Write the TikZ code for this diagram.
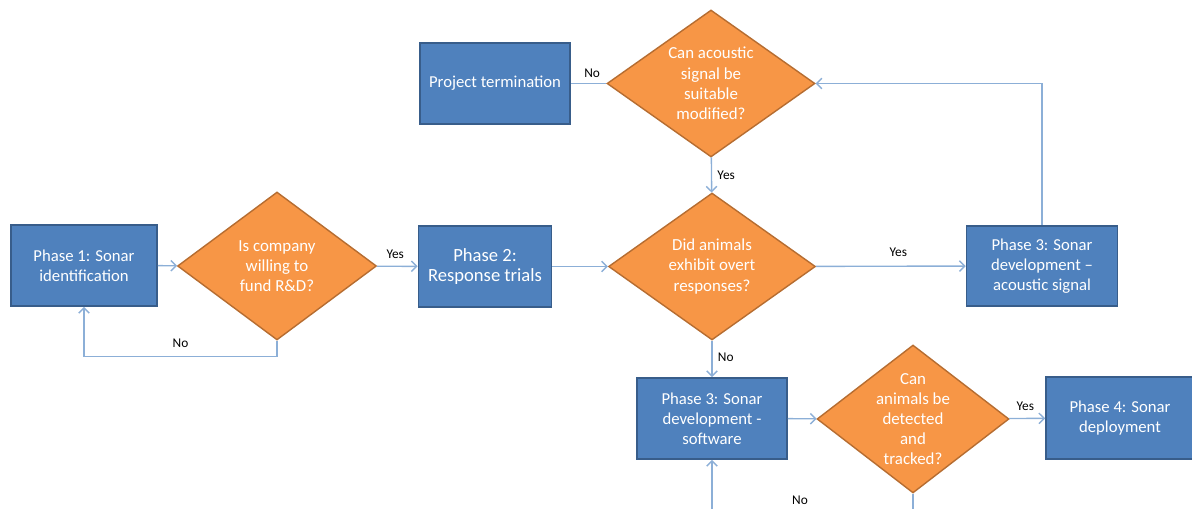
\documentclass[tikz,border=0pt]{standalone}
\usepackage{fontspec}
\setmainfont{Carlito}
\usetikzlibrary{arrows.meta}
\usetikzlibrary{shapes.geometric}
\usetikzlibrary{positioning}
\definecolor{phaseblue}{RGB}{79,129,189}
\definecolor{phaseedge}{RGB}{56,93,138}
\definecolor{askorange}{RGB}{247,150,70}
\definecolor{askedge}{RGB}{182,109,49}
\definecolor{linkblue}{RGB}{140,175,215}
\tikzset{
  phase/.style={rectangle,draw=phaseedge,fill=phaseblue,line width=1pt,text=white,
    align=center,font=\fontsize{9.5}{11.4}\selectfont},
  ask/.style={diamond,draw=askedge,fill=askorange,line width=0.8pt,text=white,
    align=center,inner sep=0pt,font=\fontsize{9.6}{11.5}\selectfont},
  link/.style={draw=linkblue,line width=0.8pt},
  answer/.style={font=\fontsize{7.6}{9}\selectfont,text=black,inner sep=1pt}
}
\begin{document}
\begin{tikzpicture}[x=0.02cm,y=-0.02cm,>={Straight Barb[length=3pt,width=6pt]}]
\useasboundingbox (0,0) rectangle (1192,509);
% boxes
\node[phase,minimum width=2.92cm,minimum height=1.62cm] (phaseone) at (84,265.5) {Phase 1: Sonar\\identification};
\node[phase,minimum width=2.66cm,minimum height=1.62cm,font=\fontsize{10.6}{11.6}\selectfont] (phasetwo) at (485,266.5) {Phase 2:\\Response trials};
\node[phase,minimum width=3.0cm,minimum height=1.62cm] (stop) at (495,83.5) {Project termination};
\node[phase,minimum width=3.02cm,minimum height=1.60cm] (acoustic) at (1042,266) {Phase 3: Sonar\\development --\\acoustic signal};
\node[phase,minimum width=3.0cm,minimum height=1.62cm] (software) at (712,418.5) {Phase 3: Sonar\\development -\\software};
\node[phase,minimum width=2.96cm,minimum height=1.64cm] (deploy) at (1120,418) {Phase 4: Sonar\\deployment};
% decisions
\node[ask,aspect=1.34,minimum width=3.98cm,minimum height=2.96cm] (fund) at (277,266) {Is company\\willing to\\fund R\&D?};
\node[ask,aspect=1.41,minimum width=4.14cm,minimum height=2.94cm] (overt) at (712,266.5) {Did animals\\exhibit overt\\responses?};
\node[ask,aspect=1.41,minimum width=4.16cm,minimum height=2.94cm,inner sep=-2pt] (modify) at (711,83.5) {Can acoustic\\signal be\\suitable\\modified?};
\node[ask,aspect=1.31,minimum width=3.84cm,minimum height=2.96cm,inner sep=-6pt] (track) at (913,419) {Can\\animals be\\detected\\and\\tracked?};
% loose ends at the lower edge
\coordinate (trackend) at (913,509);
\coordinate (softstart) at (712,509);
% connectors
\draw[link,->] (phaseone) -- (fund);
\draw[link,->] (fund) -- node[answer,above=3pt,pos=0.45] {Yes} (phasetwo);
\draw[link,->] (fund.south) -- ++(0,16) -| node[answer,above=4pt,pos=0.25] {No} (phaseone.south);
\draw[link,->] (phasetwo) -- (overt);
\draw[link,->] (overt) -- node[answer,above=4pt,pos=0.55] {Yes} (acoustic);
\draw[link,->] (acoustic.north) |- (modify.east);
\draw[link,->] (modify) -- node[answer,right=2pt,pos=0.5] {Yes} (overt);
\draw[link] (modify) -- node[answer,above=2pt,pos=0.4] {No} (stop);
\draw[link,->] (overt) -- node[answer,right=2pt,pos=0.45] {No} (software);
\draw[link,->] (software) -- (track);
\draw[link,->] (track) -- node[answer,above=3pt,pos=0.45] {Yes} (deploy);
\draw[link] (track.south) -- (trackend);
\draw[link,->] (softstart) -- (software.south);
\node[answer] (noloop) at (800,500) {No};
\end{tikzpicture}
\end{document}
